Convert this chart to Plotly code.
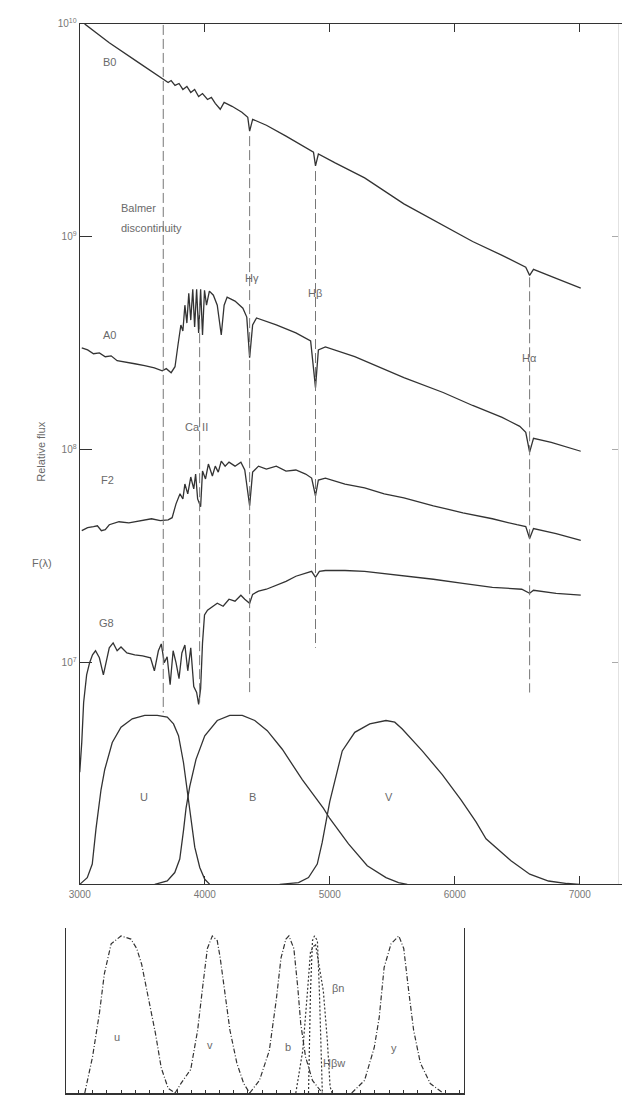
import numpy as np
import plotly.graph_objects as go

# ---- stellar spectra: wavelength (Angstrom) and log10 relative flux ----
b0_wl = [3039, 3236, 3471, 3668, 3707, 3731, 3762, 3794, 3825, 3857, 3888, 3919, 3951, 3982,
         4022, 4053, 4084, 4124, 4155, 4218, 4297, 4344, 4359, 4383, 4493, 4650, 4807, 4870,
         4886, 4909, 5043, 5279, 5593, 5907, 6143, 6379, 6568, 6599, 6630, 6811, 7008]
b0_logf = [10.000, 9.911, 9.818, 9.743, 9.725, 9.734, 9.711, 9.720, 9.692, 9.706, 9.678, 9.692,
           9.659, 9.673, 9.645, 9.655, 9.627, 9.599, 9.631, 9.613, 9.585, 9.561, 9.496, 9.552,
           9.524, 9.473, 9.421, 9.398, 9.333, 9.389, 9.347, 9.277, 9.155, 9.053, 8.978, 8.913,
           8.857, 8.819, 8.847, 8.805, 8.759]

a0_wl = [3016, 3063, 3110, 3157, 3204, 3251, 3299, 3361, 3440, 3519, 3597, 3660, 3692, 3731,
         3762, 3786, 3809, 3825, 3841, 3857, 3872, 3888, 3904, 3919, 3935, 3951, 3967, 3982,
         3998, 4014, 4037, 4069, 4100, 4132, 4155, 4179, 4242, 4305, 4336, 4359, 4383, 4414,
         4572, 4729, 4847, 4886, 4909, 4965, 5200, 5593, 5907, 6143, 6379, 6520, 6568, 6599,
         6630, 6772, 7008]
a0_logf = [8.479, 8.469, 8.451, 8.455, 8.437, 8.441, 8.418, 8.413, 8.404, 8.395, 8.385, 8.371,
           8.381, 8.362, 8.390, 8.493, 8.586, 8.558, 8.679, 8.595, 8.735, 8.609, 8.754, 8.577,
           8.754, 8.549, 8.754, 8.539, 8.749, 8.679, 8.745, 8.726, 8.679, 8.539, 8.679, 8.717,
           8.698, 8.665, 8.623, 8.432, 8.586, 8.619, 8.586, 8.549, 8.511, 8.292, 8.469, 8.483,
           8.437, 8.339, 8.269, 8.208, 8.152, 8.110, 8.082, 7.989, 8.054, 8.035, 7.993]

f2_wl = [3016, 3063, 3110, 3141, 3173, 3204, 3236, 3314, 3393, 3495, 3574, 3644, 3707, 3739,
         3770, 3802, 3825, 3841, 3864, 3888, 3912, 3927, 3943, 3967, 3982, 4006, 4029, 4061,
         4084, 4108, 4132, 4163, 4194, 4242, 4289, 4320, 4359, 4383, 4430, 4493, 4572, 4650,
         4729, 4807, 4855, 4886, 4909, 4965, 5122, 5279, 5436, 5593, 5829, 6065, 6301, 6497,
         6568, 6599, 6630, 6811, 7008]
f2_logf = [7.620, 7.634, 7.639, 7.643, 7.620, 7.625, 7.648, 7.662, 7.657, 7.667, 7.676, 7.667,
           7.671, 7.681, 7.746, 7.793, 7.769, 7.839, 7.793, 7.872, 7.816, 7.886, 7.769, 7.732,
           7.900, 7.863, 7.933, 7.877, 7.923, 7.895, 7.947, 7.923, 7.942, 7.923, 7.942, 7.905,
           7.737, 7.895, 7.923, 7.909, 7.923, 7.900, 7.905, 7.886, 7.867, 7.784, 7.858, 7.867,
           7.839, 7.821, 7.793, 7.774, 7.737, 7.704, 7.676, 7.648, 7.639, 7.583, 7.630, 7.606,
           7.574]

g8_wl = [3000, 3016, 3031, 3055, 3079, 3102, 3126, 3157, 3189, 3212, 3236, 3267, 3299, 3330,
         3377, 3440, 3503, 3566, 3597, 3629, 3652, 3676, 3699, 3723, 3747, 3770, 3794, 3817,
         3841, 3864, 3888, 3912, 3935, 3951, 3967, 3982, 3998, 4022, 4061, 4100, 4147, 4194,
         4242, 4289, 4320, 4359, 4383, 4430, 4493, 4572, 4650, 4729, 4807, 4855, 4886, 4917,
         4965, 5122, 5279, 5436, 5593, 5829, 6065, 6301, 6536, 6599, 6630, 6811, 7008]
g8_logf = [6.486, 6.626, 6.813, 6.943, 7.000, 7.037, 7.056, 7.023, 6.943, 7.000, 7.070, 7.093,
           7.056, 7.074, 7.046, 7.037, 7.032, 7.023, 6.962, 7.056, 7.088, 7.000, 7.028, 6.897,
           7.056, 7.000, 6.925, 7.046, 7.083, 6.962, 7.070, 6.888, 6.860, 6.804, 6.878, 7.093,
           7.224, 7.247, 7.261, 7.279, 7.265, 7.298, 7.289, 7.317, 7.298, 7.279, 7.321, 7.336,
           7.345, 7.363, 7.382, 7.406, 7.419, 7.429, 7.401, 7.429, 7.433, 7.433, 7.429, 7.419,
           7.406, 7.392, 7.373, 7.354, 7.345, 7.326, 7.340, 7.326, 7.317]

# ---- marked features: wavelength, log10 flux at top and bottom of the guide line ----
feature_wl = [3668, 3959, 4359, 4886, 6599]
feature_top = [9.995, 8.679, 9.473, 9.309, 8.810]
feature_bot = [6.766, 6.813, 6.860, 7.070, 6.860]

# ---- Johnson UBV passbands (relative response) ----
u_wl = [3000, 3060, 3100, 3130, 3170, 3200, 3260, 3330, 3420, 3520, 3620, 3700, 3750, 3790,
        3830, 3860, 3890, 3920, 3960, 4000, 4040]
u_resp = [0.0, 0.04, 0.12, 0.33, 0.56, 0.68, 0.84, 0.93, 0.98, 1.0, 1.0, 0.99, 0.95, 0.88,
          0.72, 0.55, 0.38, 0.22, 0.10, 0.03, 0.0]
b_wl = [3600, 3700, 3760, 3800, 3830, 3850, 3880, 3930, 4000, 4100, 4200, 4300, 4400, 4500,
        4620, 4780, 4950, 5000, 5150, 5300, 5450, 5550, 5620]
b_resp = [0.0, 0.02, 0.07, 0.15, 0.32, 0.45, 0.58, 0.74, 0.88, 0.97, 1.0, 1.0, 0.97, 0.91,
          0.80, 0.62, 0.45, 0.39, 0.24, 0.11, 0.04, 0.01, 0.0]
v_wl = [4600, 4750, 4830, 4900, 4940, 5000, 5100, 5200, 5320, 5450, 5520, 5580, 5740, 5900,
        6050, 6170, 6250, 6450, 6600, 6750, 6900, 7000]
v_resp = [0.0, 0.01, 0.04, 0.12, 0.25, 0.49, 0.79, 0.90, 0.95, 0.97, 0.96, 0.92, 0.79, 0.65,
          0.50, 0.37, 0.27, 0.14, 0.06, 0.02, 0.005, 0.0]

# ---- Stromgren uvby + H-beta passbands ----
su_wl = [3243, 3298, 3347, 3382, 3430, 3500, 3570, 3611, 3646, 3695, 3744, 3785, 3834, 3883]
su_resp = [0.0, 0.23, 0.51, 0.76, 0.95, 1.0, 0.98, 0.92, 0.82, 0.59, 0.38, 0.16, 0.03, 0.0]
sv_wl = [3883, 3924, 3994, 4043, 4078, 4112, 4147, 4182, 4203, 4238, 4272, 4321, 4370, 4412]
sv_resp = [0.0, 0.06, 0.15, 0.40, 0.67, 0.92, 1.0, 0.97, 0.86, 0.61, 0.40, 0.19, 0.06, 0.0]
sb_wl = [4412, 4481, 4551, 4600, 4634, 4669, 4690, 4725, 4753, 4774, 4808, 4857, 4927]
sb_resp = [0.0, 0.08, 0.27, 0.59, 0.86, 0.98, 1.0, 0.92, 0.67, 0.44, 0.23, 0.08, 0.0]
sy_wl = [5135, 5226, 5295, 5330, 5365, 5414, 5469, 5504, 5539, 5574, 5622, 5692, 5783]
sy_resp = [0.0, 0.08, 0.29, 0.48, 0.80, 0.95, 1.0, 0.92, 0.65, 0.40, 0.19, 0.06, 0.0]
hbn_wl = [4829, 4843, 4857, 4871, 4892, 4906, 4927]
hbn_resp = [0.0, 0.65, 0.97, 1.0, 0.97, 0.65, 0.0]
hbw_wl = [4739, 4788, 4822, 4843, 4878, 4934, 4962, 4982, 4996]
hbw_resp = [0.0, 0.27, 0.65, 0.90, 0.95, 0.65, 0.34, 0.04, 0.0]

W, H = 622, 1097
INK = "#333333"
GREY = "#6a6a6a"
FONT = "Liberation Sans, Arial, sans-serif"


def paper(x, y):
    """Pixel position -> paper coordinates."""
    return x / W, 1 - y / H


fig = go.Figure()

for wl, lf in [(b0_wl, b0_logf), (a0_wl, a0_logf), (f2_wl, f2_logf), (g8_wl, g8_logf)]:
    fig.add_trace(go.Scatter(x=wl, y=10 ** np.array(lf), mode="lines",
                             line=dict(color=INK, width=1.3), xaxis="x", yaxis="y",
                             hoverinfo="skip", showlegend=False))

for wl, top, bot in zip(feature_wl, feature_top, feature_bot):
    fig.add_trace(go.Scatter(x=[wl, wl], y=[10 ** top, 10 ** bot], mode="lines",
                             line=dict(color="#777777", width=1, dash="10px,4px"),
                             xaxis="x", yaxis="y", hoverinfo="skip", showlegend=False))

for wl, r in [(u_wl, u_resp), (b_wl, b_resp), (v_wl, v_resp)]:
    fig.add_trace(go.Scatter(x=wl, y=r, mode="lines", line=dict(color=INK, width=1.3),
                             xaxis="x", yaxis="y2", hoverinfo="skip", showlegend=False))

# right-hand tick carrier
fig.add_trace(go.Scatter(x=[3000], y=[1e8], mode="lines", xaxis="x", yaxis="y4",
                         hoverinfo="skip", showlegend=False))

for wl, r, d in [(su_wl, su_resp, "5px,2px,1px,2px"), (sv_wl, sv_resp, "5px,2px,1px,2px"),
                 (sb_wl, sb_resp, "5px,2px,1px,2px"), (sy_wl, sy_resp, "5px,2px,1px,2px"),
                 (hbn_wl, hbn_resp, "2px,2px"), (hbw_wl, hbw_resp, "2px,2px")]:
    fig.add_trace(go.Scatter(x=wl, y=r, mode="lines", line=dict(color=INK, width=1.2, dash=d),
                             xaxis="x3", yaxis="y3", hoverinfo="skip", showlegend=False))

labels = [
    ("B0", 100, 55, "center"), ("Balmer", 110, 202, "left"), ("discontinuity", 110, 222, "left"),
    ("A0", 100, 330, "center"), ("Ca II", 189, 423, "center"), ("F2", 98, 476, "center"),
    ("G8", 97, 620, "center"), ("Hγ", 245, 273, "center"), ("Hβ", 309, 288, "center"),
    ("Hα", 528, 353, "center"), ("F(λ)", 32, 560, "center"),
    ("U", 135, 795, "center"), ("B", 246, 795, "center"), ("V", 385, 795, "center"),
    ("u", 108, 1037, "center"), ("v", 203, 1045, "center"), ("b", 282, 1047, "center"),
    ("y", 390, 1048, "center"), ("βn", 333, 987, "center"), ("Hβw", 329, 1063, "center"),
]
for text, x, y, align in labels:
    px_, py_ = paper(x, y)
    fig.add_annotation(text=text, x=px_, y=py_, xref="paper", yref="paper",
                       xanchor=align, yanchor="middle", showarrow=False,
                       font=dict(family=FONT, size=11, color=GREY))

rx, ry = paper(23, 448)
fig.add_annotation(text="Relative flux", x=rx, y=ry, xref="paper", yref="paper",
                   textangle=-90, showarrow=False,
                   font=dict(family=FONT, size=11, color=GREY))

log_range = [5.959, 10.0]
decades = [1e7, 1e8, 1e9, 1e10]
fig.update_layout(
    width=W, height=H, margin=dict(l=0, r=0, t=0, b=0),
    paper_bgcolor="white", plot_bgcolor="white",
    font=dict(family=FONT, color=GREY),
    xaxis=dict(domain=[70 / W, 1.0], range=[3000, 7338], anchor="y",
               tickvals=[3000, 4000, 5000, 6000, 7000], ticks="inside", ticklen=8,
               tickcolor=INK, showline=True, linecolor=INK, linewidth=1.3, mirror="ticks",
               showgrid=False, zeroline=False, tickfont=dict(size=10, color="#777777")),
    yaxis=dict(type="log", domain=[214 / H, 1080 / H], range=log_range, anchor="x",
               tickvals=decades,
               ticktext=["10<sup>7</sup>", "10<sup>8</sup>", "10<sup>9</sup>", "10<sup>10</sup>"],
               ticks="inside", ticklen=12, tickcolor=INK, showline=True, linecolor=INK,
               linewidth=1.3, showgrid=False, zeroline=False,
               tickfont=dict(size=10, color="#777777")),
    yaxis2=dict(overlaying="y", range=[0, 5.094], anchor="x", visible=False),
    yaxis4=dict(type="log", overlaying="y", range=log_range, side="right", anchor="free",
                position=618 / W, tickvals=decades, ticks="inside", ticklen=6,
                tickcolor="#aaaaaa", showticklabels=False, showline=True,
                linecolor="#e2e2e2", showgrid=False, zeroline=False),
    xaxis3=dict(domain=[56 / W, 461 / W], range=[3110, 5930], anchor="y3",
                tick0=3000, dtick=100, ticks="inside", ticklen=3, tickcolor=INK,
                showticklabels=False, showline=True, linecolor=INK, linewidth=1.5,
                showgrid=False, zeroline=False),
    yaxis3=dict(domain=[4 / H, 170 / H], range=[0, 1.05], anchor="x3",
                showticklabels=False, ticks="", showline=True, mirror=True,
                linecolor=INK, linewidth=1.2, showgrid=False, zeroline=False),
)

fig.write_html("out.html")
